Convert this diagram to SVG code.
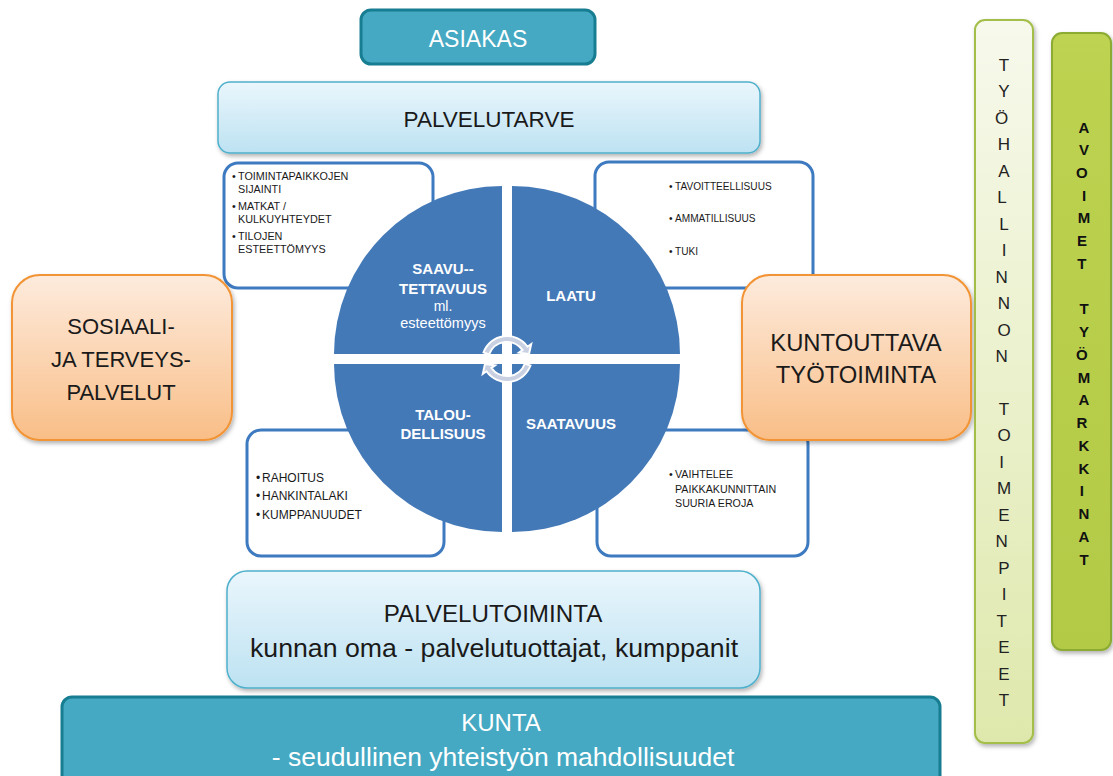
<svg xmlns="http://www.w3.org/2000/svg" width="1113" height="776" viewBox="0 0 1113 776">
  <defs>
    <linearGradient id="gBlueLight" x1="0" y1="0" x2="0" y2="1">
      <stop offset="0" stop-color="#eaf6fc"/>
      <stop offset="1" stop-color="#bde2f2"/>
    </linearGradient>
    <linearGradient id="gOrange" x1="0" y1="0" x2="0" y2="1">
      <stop offset="0" stop-color="#fdebdd"/>
      <stop offset="1" stop-color="#f9be87"/>
    </linearGradient>
    <linearGradient id="gGreenLight" x1="0" y1="0" x2="0" y2="1">
      <stop offset="0" stop-color="#f7f9ec"/>
      <stop offset="1" stop-color="#dfe8ac"/>
    </linearGradient>
    <linearGradient id="gGreen" x1="0" y1="0" x2="0" y2="1">
      <stop offset="0" stop-color="#bdd351"/>
      <stop offset="1" stop-color="#b3ca46"/>
    </linearGradient>
    <filter id="shadow" x="-10%" y="-10%" width="130%" height="140%">
      <feDropShadow dx="1.5" dy="2.5" stdDeviation="2" flood-color="#000" flood-opacity="0.3"/>
    </filter>
    <!-- half-circle arrow used twice in the middle of the wheel -->
    <path id="cycleArrow" d="M483.5,352.5 A25,25 0 0 1 527.5,346.7 L531.2,344.1 L529.0,354.1 L518.9,352.7 L522.6,350.1 A19,19 0 0 0 489.1,354.5 Z"/>
  </defs>
  <style>
    text { font-family: "Liberation Sans", Arial, sans-serif; }
    .teal { fill: #45a9c3; stroke: #177d91; stroke-width: 3; }
    .sky { fill: url(#gBlueLight); stroke: #4fb0cc; stroke-width: 1.5; filter: url(#shadow); }
    .orange { fill: url(#gOrange); stroke: #f29434; stroke-width: 2; filter: url(#shadow); }
    .info { fill: #ffffff; stroke: #3e7ac0; stroke-width: 3; }
    .quad { fill: #4479b8; }
    .cycle { fill: #c8d0e2; stroke: #ffffff; stroke-width: 2; }
    .big { fill: #1a1a1a; text-anchor: middle; }
    .white { fill: #ffffff; text-anchor: middle; }
    .qlabel { font-size: 15px; font-weight: bold; fill: #ffffff; text-anchor: middle; }
    .bullet { fill: #1a1a1a; }
    .vert { font-size: 17px; fill: #222222; text-anchor: middle; }
    .vertb { font-size: 15px; font-weight: bold; fill: #111111; text-anchor: middle; }
  </style>

  <!-- top: customer and service need -->
  <g id="asiakas">
    <rect class="teal" x="361" y="10" width="234" height="54" rx="10"/>
    <text class="white" x="478" y="47" font-size="23">ASIAKAS</text>
  </g>
  <g id="palvelutarve">
    <rect class="sky" x="218" y="82" width="542" height="71" rx="12"/>
    <text class="big" x="489" y="127" font-size="22.5">PALVELUTARVE</text>
  </g>

  <!-- detail boxes behind the wheel -->
  <g id="box-saavutettavuus">
    <rect class="info" x="224" y="163" width="209" height="125" rx="14"/>
    <text class="bullet" font-size="10.8">
      <tspan x="232" y="180">•</tspan><tspan x="238" y="180">TOIMINTAPAIKKOJEN</tspan>
      <tspan x="238" y="193">SIJAINTI</tspan>
      <tspan x="232" y="210">•</tspan><tspan x="238" y="210">MATKAT /</tspan>
      <tspan x="238" y="223">KULKUYHTEYDET</tspan>
      <tspan x="232" y="240">•</tspan><tspan x="238" y="240">TILOJEN</tspan>
      <tspan x="238" y="253">ESTEETTÖMYYS</tspan>
    </text>
  </g>
  <g id="box-laatu">
    <rect class="info" x="595" y="162" width="218" height="126" rx="14"/>
    <text class="bullet" font-size="10.1">
      <tspan x="669" y="190">•</tspan><tspan x="675" y="190">TAVOITTEELLISUUS</tspan>
      <tspan x="669" y="222">•</tspan><tspan x="675" y="222">AMMATILLISUUS</tspan>
      <tspan x="669" y="255">•</tspan><tspan x="675" y="255">TUKI</tspan>
    </text>
  </g>
  <g id="box-taloudellisuus">
    <rect class="info" x="247" y="430" width="197" height="126" rx="14"/>
    <text class="bullet" font-size="12">
      <tspan x="256" y="482">•</tspan><tspan x="262" y="482">RAHOITUS</tspan>
      <tspan x="256" y="500">•</tspan><tspan x="262" y="500">HANKINTALAKI</tspan>
      <tspan x="256" y="519">•</tspan><tspan x="262" y="519">KUMPPANUUDET</tspan>
    </text>
  </g>
  <g id="box-saatavuus">
    <rect class="info" x="597" y="430" width="211" height="126" rx="14"/>
    <text class="bullet" font-size="10.7">
      <tspan x="669" y="478">•</tspan><tspan x="675" y="478">VAIHTELEE</tspan>
      <tspan x="675" y="493">PAIKKAKUNNITTAIN</tspan>
      <tspan x="675" y="507">SUURIA EROJA</tspan>
    </text>
  </g>

  <!-- four-part wheel -->
  <g id="wheel">
    <path class="quad" d="M502,354 L334,354 A168,168 0 0 1 502,186 Z"/>
    <path class="quad" d="M512,354 L512,186 A168,168 0 0 1 680,354 Z"/>
    <path class="quad" d="M512,364 L680,364 A168,168 0 0 1 512,532 Z"/>
    <path class="quad" d="M502,364 L502,532 A168,168 0 0 1 334,364 Z"/>
    <text class="qlabel" x="443" y="274">SAAVU--</text>
    <text class="qlabel" x="443" y="294">TETTAVUUS</text>
    <text class="white" x="443" y="311" font-size="14" fill="#eef2f9">ml.</text>
    <text class="white" x="443" y="328" font-size="14.5" fill="#eef2f9">esteettömyys</text>
    <text class="qlabel" x="571" y="301">LAATU</text>
    <text class="qlabel" x="443" y="420">TALOU-</text>
    <text class="qlabel" x="443" y="439">DELLISUUS</text>
    <text class="qlabel" x="571" y="429">SAATAVUUS</text>
  </g>

  <!-- cycle arrows in the middle of the wheel -->
  <g id="connectors">
    <use href="#cycleArrow" class="cycle"/>
    <use href="#cycleArrow" class="cycle" transform="rotate(180 507 359)"/>
  </g>

  <!-- side services -->
  <g id="sosiaali">
    <rect class="orange" x="12" y="275" width="220" height="165" rx="28"/>
    <text class="big" x="121" y="334" font-size="22">SOSIAALI-</text>
    <text class="big" x="121" y="367" font-size="22">JA TERVEYS-</text>
    <text class="big" x="121" y="400" font-size="22">PALVELUT</text>
  </g>
  <g id="kuntouttava">
    <rect class="orange" x="742" y="275" width="229" height="165" rx="28"/>
    <text class="big" x="856" y="351" font-size="23.8">KUNTOUTTAVA</text>
    <text class="big" x="856" y="383" font-size="23.8">TYÖTOIMINTA</text>
  </g>

  <!-- bottom: service production and municipality -->
  <g id="palvelutoiminta">
    <rect class="sky" x="227" y="571" width="533" height="117" rx="20"/>
    <text class="big" x="493" y="622" font-size="24.2">PALVELUTOIMINTA</text>
    <text class="big" x="494" y="657" font-size="26.7">kunnan oma - palvelutuottajat, kumppanit</text>
  </g>
  <g id="kunta">
    <rect class="teal" x="62" y="697" width="878" height="100" rx="10"/>
    <text class="white" x="501" y="731" font-size="24">KUNTA</text>
    <text class="white" x="503" y="766" font-size="26.5">- seudullinen yhteistyön mahdollisuudet</text>
  </g>

  <!-- vertical bars on the right -->
  <g id="tyohallinto">
    <rect x="975" y="20" width="58" height="723" rx="10" fill="url(#gGreenLight)" stroke="#a3bf4a" stroke-width="2" filter="url(#shadow)"/>
    <text class="vert">
      <tspan x="1004" y="71">T</tspan><tspan x="1004" y="97">Y</tspan><tspan x="1004" y="124">Ö</tspan>
      <tspan x="1004" y="150">H</tspan><tspan x="1004" y="177">A</tspan><tspan x="1004" y="203">L</tspan>
      <tspan x="1004" y="230">L</tspan><tspan x="1004" y="256">I</tspan><tspan x="1004" y="283">N</tspan>
      <tspan x="1004" y="309">N</tspan><tspan x="1004" y="336">O</tspan><tspan x="1004" y="362">N</tspan>
      <tspan x="1004" y="415">T</tspan><tspan x="1004" y="441">O</tspan><tspan x="1004" y="468">I</tspan>
      <tspan x="1004" y="494">M</tspan><tspan x="1004" y="521">E</tspan><tspan x="1004" y="547">N</tspan>
      <tspan x="1004" y="574">P</tspan><tspan x="1004" y="600">I</tspan><tspan x="1004" y="627">T</tspan>
      <tspan x="1004" y="653">E</tspan><tspan x="1004" y="680">E</tspan><tspan x="1004" y="706">T</tspan>
    </text>
  </g>
  <g id="tyomarkkinat">
    <rect x="1052" y="33" width="59" height="617" rx="10" fill="url(#gGreen)" stroke="#8cab32" stroke-width="2" filter="url(#shadow)"/>
    <text class="vertb">
      <tspan x="1084" y="133">A</tspan><tspan x="1084" y="155">V</tspan><tspan x="1084" y="178">O</tspan>
      <tspan x="1084" y="201">I</tspan><tspan x="1084" y="223">M</tspan><tspan x="1084" y="246">E</tspan>
      <tspan x="1084" y="269">T</tspan>
      <tspan x="1084" y="314">T</tspan><tspan x="1084" y="337">Y</tspan><tspan x="1084" y="360">Ö</tspan>
      <tspan x="1084" y="383">M</tspan><tspan x="1084" y="405">A</tspan><tspan x="1084" y="428">R</tspan>
      <tspan x="1084" y="451">K</tspan><tspan x="1084" y="474">K</tspan><tspan x="1084" y="496">I</tspan>
      <tspan x="1084" y="519">N</tspan><tspan x="1084" y="542">A</tspan><tspan x="1084" y="565">T</tspan>
    </text>
  </g>
</svg>
